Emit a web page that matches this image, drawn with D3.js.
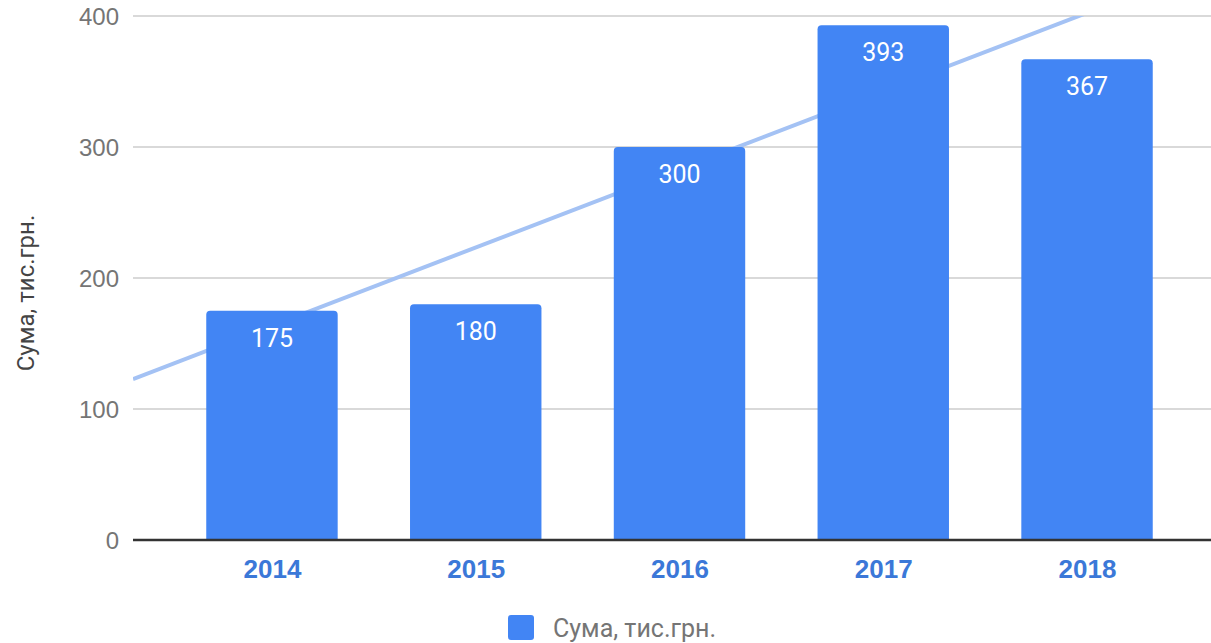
<!DOCTYPE html>
<html>
<head>
<meta charset="utf-8">
<script src="https://cdn.jsdelivr.net/npm/d3@7"></script>
<style>
    html, body { margin: 0; padding: 0; background: #fff; }
    svg { display: block; font-family: Roboto, "Noto Sans", sans-serif; }
</style>
</head>
<body>
<div id="chart"></div>
<script>
// ============================================================================
// DATA
// ============================================================================

const years  = [2014, 2015, 2016, 2017, 2018];
const values = [175, 180, 300, 393, 367];
const yTicks = [0, 100, 200, 300, 400];
const seriesName = "Сума, тис.грн.";


// ============================================================================
// SETUP
// ============================================================================

const W = 1211, H = 643;
const plot = { left: 133, right: 1226, top: 16, bottom: 540 };

const svg = d3.select("#chart")
    .append("svg")
    .attr("width", W)
    .attr("height", H);

// continuous x (years), padded so bars sit inside like the source chart
const x = d3.scaleLinear()
    .domain([2014 - 0.682, 2018 + 0.682])
    .range([plot.left, plot.right]);

const y = d3.scaleLinear()
    .domain([0, 400])
    .range([plot.bottom, plot.top]);

const step = x(2015) - x(2014);
const barW = step * 0.645;

svg.append("clipPath").attr("id", "plot-clip")
    .append("rect")
    .attr("x", plot.left).attr("y", plot.top)
    .attr("width", plot.right - plot.left)
    .attr("height", plot.bottom - plot.top);


// ============================================================================
// GRID + Y AXIS
// ============================================================================

svg.append("g")
    .selectAll("line.grid")
    .data(yTicks.filter(t => t > 0))
    .join("line")
    .attr("class", "grid")
    .attr("x1", plot.left).attr("x2", W)
    .attr("y1", d => y(d)).attr("y2", d => y(d))
    .attr("stroke", "#cccccc")
    .attr("stroke-width", 1.5);

const yAxis = svg.append("g")
    .attr("transform", `translate(${plot.left},0)`)
    .call(d3.axisLeft(y).tickValues(yTicks).tickSize(0).tickPadding(14));

yAxis.select(".domain").remove();
yAxis.selectAll("text")
    .attr("fill", "#757575")
    .style("font-size", "24px")
    .attr("dy", "0.36em");

svg.append("text")
    .attr("transform", "rotate(-90)")
    .attr("x", -293)
    .attr("y", 34)
    .attr("text-anchor", "middle")
    .attr("fill", "#444")
    .style("font-size", "24px")
    .text(seriesName);


// ============================================================================
// TRENDLINE (least squares over the bar values)
// ============================================================================

const mx = d3.mean(years), my = d3.mean(values);
const slope = d3.sum(years, (d, i) => (d - mx) * (values[i] - my)) /
              d3.sum(years, d => (d - mx) ** 2);
const trend = t => my + slope * (t - mx);
const [x0, x1] = x.domain();

svg.append("line")
    .attr("clip-path", "url(#plot-clip)")
    .attr("x1", x(x0)).attr("y1", y(trend(x0)))
    .attr("x2", x(x1)).attr("y2", y(trend(x1)))
    .attr("stroke", "#a4c2f4")
    .attr("stroke-width", 4);


// ============================================================================
// BARS
// ============================================================================

const r = 4;
const barPath = (d, i) => {
    const xl = x(d) - barW / 2, xr = x(d) + barW / 2;
    const yt = y(values[i]), yb = y(0);
    return `M${xl},${yb}V${yt + r}Q${xl},${yt} ${xl + r},${yt}` +
           `H${xr - r}Q${xr},${yt} ${xr},${yt + r}V${yb}Z`;
};

svg.append("g")
    .selectAll("path.bar")
    .data(years)
    .join("path")
    .attr("class", "bar")
    .attr("d", barPath)
    .attr("fill", "#4285f4");

svg.append("g")
    .selectAll("text.bar-label")
    .data(years)
    .join("text")
    .attr("class", "bar-label")
    .attr("x", d => x(d))
    .attr("y", (d, i) => y(values[i]) + 27)
    .attr("dy", "0.36em")
    .attr("text-anchor", "middle")
    .attr("fill", "#ffffff")
    .style("font-size", "25px")
    .text((d, i) => values[i]);

// baseline
svg.append("line")
    .attr("x1", plot.left).attr("x2", W)
    .attr("y1", y(0)).attr("y2", y(0))
    .attr("stroke", "#333333")
    .attr("stroke-width", 2.5);


// ============================================================================
// X AXIS
// ============================================================================

const xAxis = svg.append("g")
    .attr("transform", `translate(0,${plot.bottom})`)
    .call(d3.axisBottom(x).tickValues(years).tickFormat(d3.format("d")).tickSize(0).tickPadding(20));

xAxis.select(".domain").remove();
xAxis.selectAll("text")
    .attr("fill", "#3b78d8")
    .style("font-size", "26px")
    .style("font-weight", "bold");


// ============================================================================
// LEGEND
// ============================================================================

const legend = svg.append("g").attr("transform", "translate(508,615)");

legend.append("rect")
    .attr("width", 26).attr("height", 25)
    .attr("rx", 3)
    .attr("fill", "#4285f4");

legend.append("text")
    .attr("x", 45)
    .attr("y", 13)
    .attr("dy", "0.36em")
    .attr("fill", "#757575")
    .style("font-size", "25px")
    .text(seriesName);
</script>
</body>
</html>
